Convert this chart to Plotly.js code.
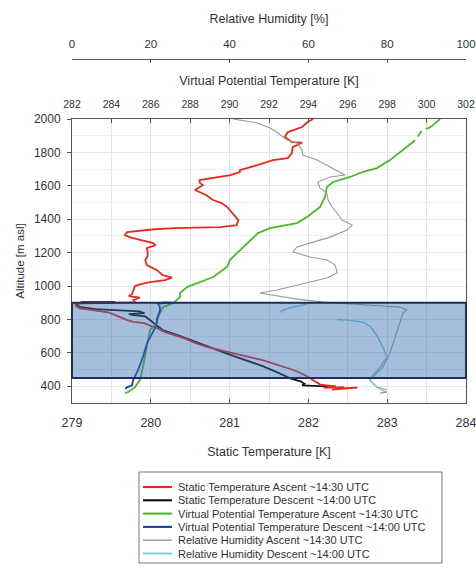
<!DOCTYPE html>
<html><head><meta charset="utf-8">
<script src="https://cdn.plot.ly/plotly-3.0.1.min.js"></script>
<style>html,body{margin:0;padding:0;background:#fff}#chart{width:476px;height:568px}</style>
</head><body><div id="chart"></div>
<script>
// ---- Data ----
const seriesNames = [
  'Static Temperature Ascent ~14:30 UTC',
  'Static Temperature Descent ~14:00 UTC',
  'Virtual Potential Temperature Ascent ~14:30 UTC',
  'Virtual Potential Temperature Descent ~14:00 UTC',
  'Relative Humidity Ascent ~14:30 UTC',
  'Relative Humidity Descent ~14:00 UTC'
];
const seriesColors = ['#e8291c', '#111111', '#4cb82a', '#1f3ea8', '#9a9a9a', '#6cc9d8'];
const seriesWidths = [1.8, 1.8, 1.8, 1.8, 1.1, 1.4];

const redAlt = [380,386,392,388,395,390,400,410,424,445,466,496,530,556,580,604,634,660,688,724,748,765,778,785,796,820,843,867,880,895,900,902,915,930,940,950,975,1000,1010,1023,1035,1050,1065,1080,1095,1125,1155,1180,1200,1227,1245,1257,1275,1290,1305,1323,1340,1347,1353,1365,1395,1437,1473,1497,1515,1545,1575,1604,1620,1634,1646,1664,1682,1694,1724,1754,1766,1796,1832,1850,1858,1862,1892,1922,1952,1982,2000];
const redT = [282.30,282.55,282.62,282.40,282.45,282.20,282.35,282.15,282.10,282.02,281.96,281.82,281.60,281.42,281.20,281.00,280.72,280.56,280.42,280.18,280.08,279.98,279.92,279.78,279.70,279.58,279.46,279.10,279.05,279.04,279.45,279.80,279.78,279.86,279.72,279.76,279.78,279.80,279.86,279.99,280.18,280.27,280.15,280.12,280.08,279.95,279.93,279.96,279.96,279.95,280.06,280.03,279.86,279.75,279.67,279.70,280.05,280.30,280.88,281.09,281.11,281.04,280.97,280.90,280.79,280.70,280.56,280.66,280.62,280.62,280.79,281.01,281.13,281.13,281.35,281.55,281.74,281.79,281.80,281.87,281.92,281.79,281.70,281.74,281.92,281.99,282.06];

const blackAlt = [903,903,890,875,862,856,848,838,832,826,818,800,780,760,737,705,660,629,590,557,521,480,448,430,415,406,403,400,396];
const blackT = [279.55,279.12,279.06,279.10,279.30,279.60,279.85,279.92,279.72,279.78,279.93,279.98,280.03,280.08,280.15,280.35,280.60,280.78,281.00,281.20,281.42,281.62,281.77,281.90,281.95,281.92,282.10,282.25,282.35];

const greenAlt = [359,365,395,437,515,635,737,778,814,874,898,934,958,994,1024,1054,1114,1156,1174,1216,1275,1317,1347,1377,1413,1473,1533,1593,1623,1653,1683,1706,1754,1814,1862,1875,null,1895,1916,1928,null,1940,1950,1975,2000];
const greenVPT = [284.69,284.84,285.20,285.45,285.60,285.81,285.96,286.31,286.37,286.62,287.13,287.48,287.48,287.84,288.50,289.16,289.87,290.02,290.17,290.53,291.04,291.44,292.05,293.42,293.93,294.59,294.84,294.94,295.25,296.11,296.77,297.48,298.14,298.80,299.31,299.40,null,299.55,299.66,299.75,null,299.95,300.17,300.45,300.68];

const blueAlt = [902,900,895,880,856,830,800,784,748,700,658,575,496,436,406,394,385];
const blueVPT = [286.60,287.05,286.35,286.45,286.47,286.40,286.30,286.31,286.21,286.00,285.81,285.60,285.35,285.10,285.05,284.79,284.70];

const grayAlt = [359,365,380,395,437,455,515,599,695,778,838,856,874,885,895,904,922,945,958,976,1006,1024,1048,1078,1126,1156,1174,1204,1234,1263,1293,1335,1365,1395,1437,1473,1515,1557,1587,1623,1653,1665,1713,1754,1784,1814,1856,1874,1916,1946,1976,1994,2000];
const grayRH = [78.2,79.9,78.5,77.4,75.6,76.4,78.9,80.7,82.0,83.2,84.0,85.0,83.2,76.0,68.0,63.7,57.1,51.0,47.7,52.0,57.1,60.4,64.7,67.3,66.8,64.7,60.4,56.1,57.1,61.2,65.5,69.8,71.1,68.5,67.3,66.0,65.0,64.7,62.9,62.4,65.5,69.3,65.5,62.2,58.6,58.4,57.1,54.6,52.3,50.3,47.0,42.6,40.9];

const cyanAlt = [892,880,868,855,843,null,800,796,784,760,737,690,635,575,515,467,437,395,380];
const cyanRH = [59.6,57.0,55.0,53.5,52.8,null,67.3,70.0,73.9,75.6,76.4,77.7,78.9,79.9,78.2,76.4,75.6,77.4,79.9];

// shaded layer (altitude bounds)
const layerBottom = 450, layerTop = 900;

// axis ticks
const altTicks = [400,600,800,1000,1200,1400,1600,1800,2000];
const staticTicks = [279,280,281,282,283,284];
const vptTicks = [282,284,286,288,290,292,294,296,298,300,302];
const rhTicks = [0,20,40,60,80,100];

// ---- Traces ----
const seriesData = [
  {x: redT, y: redAlt, xaxis: 'x'},
  {x: blackT, y: blackAlt, xaxis: 'x'},
  {x: greenVPT, y: greenAlt, xaxis: 'x2'},
  {x: blueVPT, y: blueAlt, xaxis: 'x2'},
  {x: grayRH, y: grayAlt, xaxis: 'x3'},
  {x: cyanRH, y: cyanAlt, xaxis: 'x3'}
];
const order = [4,5,2,3,1,0];
const traces = order.map(i => ({
  type: 'scatter', mode: 'lines', name: seriesNames[i],
  x: seriesData[i].x, y: seriesData[i].y, xaxis: seriesData[i].xaxis, yaxis: 'y',
  line: {color: seriesColors[i], width: seriesWidths[i]},
  connectgaps: false, showlegend: false, hoverinfo: 'skip'
}));

// ---- Layout geometry ----
const W = 476, H = 568;
const mL = 72, mR = 10, mT = 59, mB = 165;
const plotH = H - mT - mB;
const yDomTop = (H - mB - 119) / plotH;
const px2x = px => (px - mL) / (W - mL - mR);
const py2y = py => (H - mB - py) / plotH;

const txtColor = '#333';
const axisLine = '#555';

const shapes = [{
  type: 'rect', xref: 'paper', yref: 'y', x0: 0, x1: 1, y0: layerBottom, y1: layerTop,
  fillcolor: 'rgba(55,111,177,0.45)', line: {color: '#1c2f5e', width: 2}, layer: 'above'
}];
const annotations = [];

// custom legend (compact, as in the reference)
shapes.push({type: 'rect', xref: 'paper', yref: 'paper',
  x0: px2x(139), x1: px2x(442), y0: py2y(563), y1: py2y(472),
  line: {color: '#777', width: 1}, fillcolor: 'rgba(0,0,0,0)'});
seriesNames.forEach((nm, i) => {
  const py = 487 + i * 13.3;
  shapes.push({type: 'line', xref: 'paper', yref: 'paper',
    x0: px2x(143), x1: px2x(172), y0: py2y(py), y1: py2y(py),
    line: {color: seriesColors[i], width: seriesWidths[i] + 0.3}});
  annotations.push({xref: 'paper', yref: 'paper', x: px2x(176), y: py2y(py),
    xanchor: 'left', yanchor: 'middle', showarrow: false, text: nm,
    font: {size: 11, color: txtColor}});
});

const layout = {
  width: W, height: H,
  margin: {l: mL, r: mR, t: mT, b: mB, pad: 0},
  paper_bgcolor: '#fff', plot_bgcolor: '#fff',
  font: {family: 'Liberation Sans, Arial, sans-serif', color: txtColor, size: 11},
  showlegend: false,
  xaxis: {
    range: [279, 284], tickvals: staticTicks, anchor: 'y', side: 'bottom',
    showline: true, linecolor: axisLine, linewidth: 1, mirror: false,
    ticks: 'inside', ticklen: 4, tickcolor: axisLine,
    showgrid: false, zeroline: false, ticklabeloverflow: 'allow',
    tickfont: {size: 12.5}, ticklabelstandoff: 8,
    title: {text: 'Static Temperature [K]', font: {size: 12.5}, standoff: 18}
  },
  xaxis2: {
    range: [282, 302], tickvals: vptTicks, overlaying: 'x', anchor: 'y', side: 'top',
    showline: true, linecolor: axisLine, linewidth: 1,
    ticks: 'inside', ticklen: 4, tickcolor: axisLine,
    showgrid: true, gridcolor: '#e4e4e4', gridwidth: 1, zeroline: false, ticklabeloverflow: 'allow',
    tickfont: {size: 10.5}, ticklabelstandoff: 6,
    title: {text: 'Virtual Potential Temperature [K]', font: {size: 12.5}, standoff: 9}
  },
  xaxis3: {
    range: [0, 100], tickvals: rhTicks, overlaying: 'x', anchor: 'free', position: 1, side: 'top',
    showline: true, linecolor: axisLine, linewidth: 1,
    ticks: 'inside', ticklen: 3, tickcolor: axisLine,
    showgrid: false, zeroline: false, ticklabeloverflow: 'allow',
    tickfont: {size: 11.5}, ticklabelstandoff: 6,
    title: {text: 'Relative Humidity [%]', font: {size: 12.5}, standoff: 11}
  },
  yaxis: {
    domain: [0, yDomTop], range: [300, 2000], tickvals: altTicks,
    showline: true, linecolor: axisLine, linewidth: 1, mirror: true,
    ticks: 'outside', ticklen: 4, tickcolor: axisLine,
    showgrid: true, gridcolor: '#e6e6e6', zeroline: false,
    minor: {dtick: 100, tick0: 0, showgrid: true, gridcolor: '#efefef', ticks: ''},
    tickfont: {size: 12}, ticklabelstandoff: 4,
    title: {text: 'Altitude [m asl]', font: {size: 11.5}, standoff: 6}
  },
  shapes: shapes,
  annotations: annotations
};

Plotly.newPlot('chart', traces, layout, {staticPlot: true, displayModeBar: false});
</script>
</body></html>
